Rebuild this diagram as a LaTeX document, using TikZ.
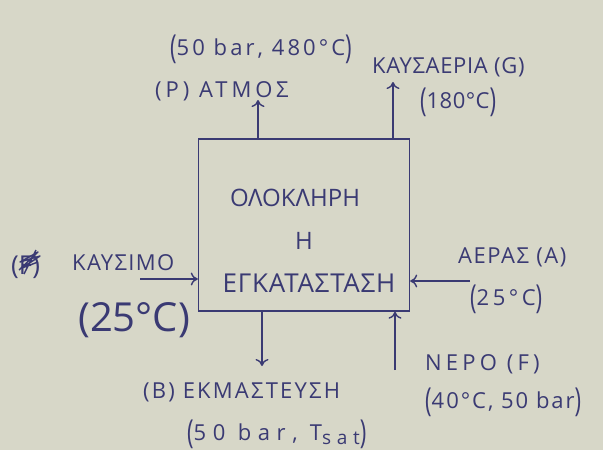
\documentclass[tikz,border=0pt]{standalone}
\usepackage{fontspec}
\usepackage{graphicx}
\setmainfont{Open Sans}
\usetikzlibrary{arrows.meta}
\definecolor{paper}{RGB}{215,215,200}
\definecolor{ink}{RGB}{58,58,115}
% tall hand-written parentheses
\newcommand{\lp}{\raisebox{-0.15em}{\scalebox{1}[1.5]{(}}}
\newcommand{\rp}{\raisebox{-0.15em}{\scalebox{1}[1.5]{)}}}
\begin{document}
\begin{tikzpicture}[x=1pt,y=-1pt,
  lbl/.style={anchor=base west,inner sep=0pt,text=ink,
    font=\fontsize{22}{26}\selectfont\addfontfeature{LetterSpace=#1}},
  lbl/.default=0,
  big/.style={anchor=base west,inner sep=0pt,text=ink,font=\fontsize{40}{44}\selectfont},
  flow/.style={draw=ink,line width=1.4pt,-{To[length=7pt,width=13pt]}},
  plantbox/.style={draw=ink,line width=1.4pt,minimum width=211pt,minimum height=172pt},
  plantname/.style={align=center,text=ink,inner sep=0pt,font=\fontsize{24}{43}\selectfont}]
\fill[paper] (0,0) rectangle (603,450);
\useasboundingbox (0,0) rectangle (603,450);

% the whole plant as one control volume
\node[plantbox] (plant) at (304,225) {};
\node[plantname] (name) at (304,241)
  {ΟΛΟΚΛΗΡΗ\hspace*{18pt}\\Η\\\hspace*{10pt}{\fontsize{26}{43}\selectfont\addfontfeature{LetterSpace=3}ΕΓΚΑΤΑΣΤΑΣΗ}};

% free ends of the streams
\coordinate (steamend) at (258,100);
\coordinate (gasend) at (393,82);
\coordinate (fuelstart) at (140,279);
\coordinate (airstart) at (470,281);
\coordinate (blowend) at (262,366);
\coordinate (waterstart) at (395,370);

% streams
\draw[flow] (plant.north -| steamend) -- (steamend);
\draw[flow] (plant.north -| gasend) -- (gasend);
\draw[flow] (fuelstart) -- (fuelstart -| plant.west);
\draw[flow] (airstart) -- (airstart -| plant.east);
\draw[flow] (plant.south -| blowend) -- (blowend);
\draw[flow] (waterstart) -- (plant.south -| waterstart);

% labels
\node[lbl=14] (steamcond) at (170,55) {\lp50 bar, 480°C\rp};
\node[lbl=18] (steam) at (155,97) {(P) ΑΤΜΟΣ};
\node[lbl=3] (gas) at (372,73) {ΚΑΥΣΑΕΡΙΑ (G)};
\node[lbl=2] (gascond) at (420,108) {\lp180°C\rp};
\node[anchor=base west,inner sep=0pt,text=ink,font=\fontsize{26}{30}\selectfont] (fueltag) at (11,274) {(F)};
% struck-out tag letter
\draw[ink,line width=1.4pt,line join=round]
  (19,270) -- (38,252) -- (20,262) -- (40,256) -- (22,268) -- (38,262)
  (24,274) -- (36,250);
\node[lbl=6] (fuel) at (72,270) {ΚΑΥΣΙΜΟ};
\node[big] (fuelcond) at (78,331) {(25°C)};
\node[lbl=7] (air) at (458,263) {ΑΕΡΑΣ (A)};
\node[lbl=16] (aircond) at (470,305) {\lp25°C\rp};
\node[lbl=19] (water) at (425,370) {ΝΕΡΟ (F)};
\node[lbl=9] (watercond) at (425,408) {\lp40°C, 50 bar\rp};
\node[lbl=10] (blow) at (143,398) {(B) ΕΚΜΑΣΤΕΥΣΗ};
\node[lbl=30] (blowcond) at (187,440) {\lp50 bar, T\raisebox{-4pt}{\fontsize{19}{20}\selectfont sat}\rp};
\end{tikzpicture}
\end{document}
